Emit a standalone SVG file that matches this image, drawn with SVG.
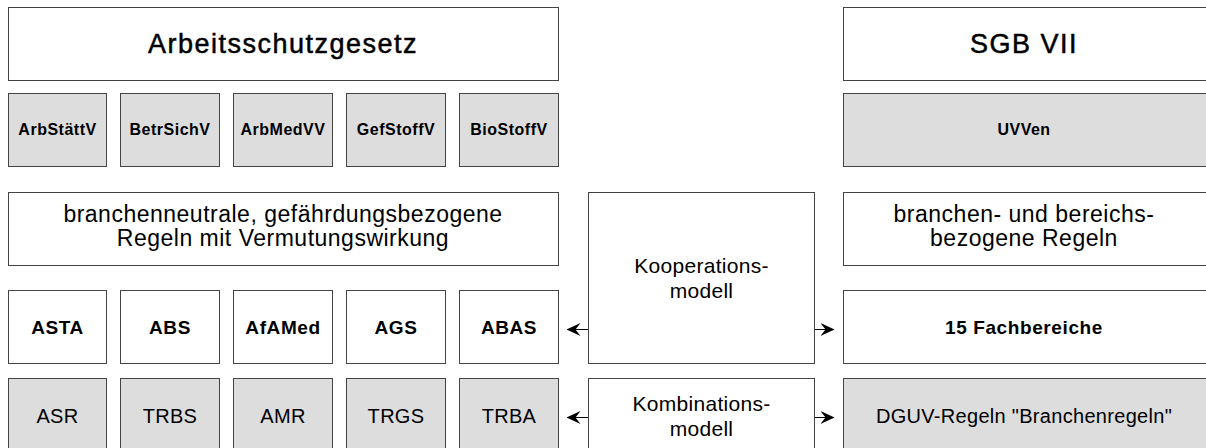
<svg xmlns="http://www.w3.org/2000/svg" width="1206" height="448" viewBox="0 0 1206 448">
<defs>
<style>
.box{fill:#ffffff;stroke:#444444;stroke-width:1}
.gray{fill:#dddddd;stroke:#444444;stroke-width:1}
text{font-family:"Liberation Sans",Arial,sans-serif;fill:#000;text-anchor:middle}
.title{font-size:27px;letter-spacing:1.5px;stroke:#000;stroke-width:0.5px}
.vo{font-size:16px;font-weight:bold;letter-spacing:0.5px}
.ba{font-size:19px;font-weight:bold;letter-spacing:0.6px}
.rg{font-size:20px;letter-spacing:0.3px}
.two{font-size:23px;letter-spacing:0.5px}
.mid{font-size:21px;letter-spacing:0.3px}
.conn{stroke:#000;stroke-width:1;fill:none;marker-end:url(#ah)}
</style>
<marker id="ah" viewBox="0 0 14 14" refX="13.5" refY="7" markerWidth="14" markerHeight="14" markerUnits="userSpaceOnUse" orient="auto">
<path d="M0,0.5 L14,7 L0,13.5 L5,7 Z" fill="#000"/>
</marker>
</defs>
<g id="arbschg"><rect class="box" x="8.5" y="7.5" width="550" height="73"/><text class="title" x="283" y="53">Arbeitsschutzgesetz</text></g>
<g id="sgb7"><rect class="box" x="843.5" y="7.5" width="370" height="73"/><text class="title" x="1024" y="53">SGB VII</text></g>
<g id="arbstaettv"><rect class="gray" x="8.5" y="93.5" width="98" height="73"/><text class="vo" x="57.5" y="135">ArbStättV</text></g>
<g id="betrsichv"><rect class="gray" x="120.5" y="93.5" width="99" height="73"/><text class="vo" x="170" y="135">BetrSichV</text></g>
<g id="arbmedvv"><rect class="gray" x="233.5" y="93.5" width="99" height="73"/><text class="vo" x="283" y="135">ArbMedVV</text></g>
<g id="gefstoffv"><rect class="gray" x="346.5" y="93.5" width="99" height="73"/><text class="vo" x="396" y="135">GefStoffV</text></g>
<g id="biostoffv"><rect class="gray" x="459.5" y="93.5" width="99" height="73"/><text class="vo" x="509" y="135">BioStoffV</text></g>
<g id="uvven"><rect class="gray" x="843.5" y="93.5" width="370" height="73"/><text class="vo" x="1024" y="135">UVVen</text></g>
<g id="regeln-neutral"><rect class="box" x="8.5" y="192.5" width="550" height="73"/><text class="two" x="283" y="222">branchenneutrale, gefährdungsbezogene</text><text class="two" x="283" y="246">Regeln mit Vermutungswirkung</text></g>
<g id="regeln-branche"><rect class="box" x="843.5" y="192.5" width="370" height="73"/><text class="two" x="1024" y="222">branchen- und bereichs-</text><text class="two" x="1024" y="246">bezogene Regeln</text></g>
<g id="kooperation"><rect class="box" x="588.5" y="192.5" width="226" height="171"/><text class="mid" x="701.5" y="273">Kooperations-</text><text class="mid" x="701.5" y="298">modell</text></g>
<g id="kombination"><rect class="box" x="588.5" y="378.5" width="226" height="76"/><text class="mid" x="701.5" y="411">Kombinations-</text><text class="mid" x="701.5" y="436">modell</text></g>
<g id="asta"><rect class="box" x="8.5" y="290.5" width="98" height="73"/><text class="ba" x="57.5" y="334">ASTA</text></g>
<g id="abs"><rect class="box" x="120.5" y="290.5" width="99" height="73"/><text class="ba" x="170" y="334">ABS</text></g>
<g id="afamed"><rect class="box" x="233.5" y="290.5" width="99" height="73"/><text class="ba" x="283" y="334">AfAMed</text></g>
<g id="ags"><rect class="box" x="346.5" y="290.5" width="99" height="73"/><text class="ba" x="396" y="334">AGS</text></g>
<g id="abas"><rect class="box" x="459.5" y="290.5" width="99" height="73"/><text class="ba" x="509" y="334">ABAS</text></g>
<g id="fachbereiche"><rect class="box" x="843.5" y="290.5" width="370" height="73"/><text class="ba" x="1024" y="334">15 Fachbereiche</text></g>
<g id="asr"><rect class="gray" x="8.5" y="378.5" width="98" height="76"/><text class="rg" x="57.5" y="423">ASR</text></g>
<g id="trbs"><rect class="gray" x="120.5" y="378.5" width="99" height="76"/><text class="rg" x="170" y="423">TRBS</text></g>
<g id="amr"><rect class="gray" x="233.5" y="378.5" width="99" height="76"/><text class="rg" x="283" y="423">AMR</text></g>
<g id="trgs"><rect class="gray" x="346.5" y="378.5" width="99" height="76"/><text class="rg" x="396" y="423">TRGS</text></g>
<g id="trba"><rect class="gray" x="459.5" y="378.5" width="99" height="76"/><text class="rg" x="509" y="423">TRBA</text></g>
<g id="dguv"><rect class="gray" x="843.5" y="378.5" width="370" height="76"/><text class="rg" x="1024" y="423">DGUV-Regeln "Branchenregeln"</text></g>
<g id="connectors">
<line class="conn" x1="588" y1="329.5" x2="567" y2="329.5"/>
<line class="conn" x1="815" y1="329.5" x2="834" y2="329.5"/>
<line class="conn" x1="588" y1="417.5" x2="567" y2="417.5"/>
<line class="conn" x1="815" y1="417.5" x2="834" y2="417.5"/>
</g>
</svg>
